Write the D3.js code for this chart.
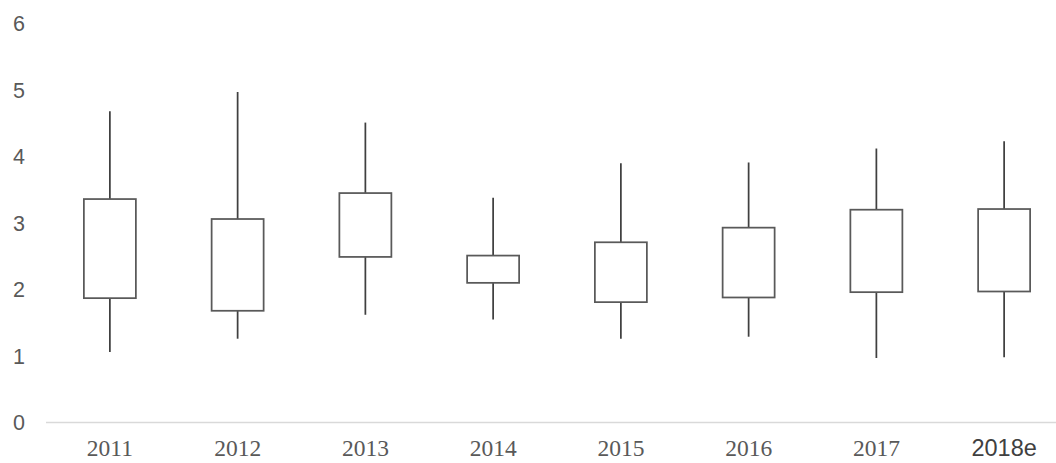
<!DOCTYPE html>
<html>
<head>
<meta charset="utf-8">
<script src="https://cdn.jsdelivr.net/npm/d3@7/dist/d3.min.js"></script>
<style>
  html, body { margin: 0; padding: 0; background: #fff; }
  svg { display: block; }
</style>
</head>
<body>
<div id="chart"></div>
<script>
// Yearly price ranges: whisker = low..high, box = open..close
const years = ["2011", "2012", "2013", "2014", "2015", "2016", "2017", "2018e"];
const high  = [4.68, 4.97, 4.51, 3.38, 3.90, 3.91, 4.12, 4.23];
const low   = [1.06, 1.26, 1.62, 1.55, 1.26, 1.29, 0.97, 0.98];
const open  = [1.87, 1.68, 2.49, 2.10, 1.81, 1.88, 1.96, 1.97];
const close = [3.36, 3.06, 3.45, 2.51, 2.71, 2.93, 3.20, 3.21];
const yTicks = [0, 1, 2, 3, 4, 5, 6];

const W = 1056, H = 463;
const data = years.map((y, i) => ({ year: y, high: high[i], low: low[i], open: open[i], close: close[i] }));

const x = d3.scaleBand().domain(years).range([46, 1068]).paddingInner(0).paddingOuter(0);
const y = d3.scaleLinear().domain([0, 6]).range([422.5, 23.5]);

const svg = d3.select("#chart").append("svg")
  .attr("width", W).attr("height", H);

// category axis line
svg.append("line")
  .attr("x1", x.range()[0]).attr("x2", x.range()[1])
  .attr("y1", y(0)).attr("y2", y(0))
  .attr("stroke", "#d9d9d9").attr("stroke-width", 1.5);

// value labels
svg.append("g").selectAll("text").data(yTicks).join("text")
  .attr("x", 25).attr("y", d => y(d))
  .attr("dy", "0.36em")
  .attr("text-anchor", "end")
  .attr("font-family", "'Liberation Sans', Arial, sans-serif")
  .attr("font-size", 21.5)
  .attr("fill", "#595959")
  .text(d => d);

// category labels
const isEstimate = d => d.endsWith("e");
svg.append("g").selectAll("text").data(years).join("text")
  .attr("x", d => x(d) + x.bandwidth() / 2)
  .attr("y", 456)
  .attr("text-anchor", "middle")
  .attr("font-family", d => isEstimate(d) ? "'Liberation Sans', Arial, sans-serif" : "'Liberation Serif', 'Times New Roman', serif")
  .attr("font-size", 23.5)
  .attr("fill", d => isEstimate(d) ? "#404040" : "#595959")
  .text(d => d);

const boxW = 52;
const g = svg.append("g").selectAll("g").data(data).join("g");

// whiskers
g.append("line")
  .attr("x1", d => x(d.year) + x.bandwidth() / 2)
  .attr("x2", d => x(d.year) + x.bandwidth() / 2)
  .attr("y1", d => y(d.high))
  .attr("y2", d => y(d.low))
  .attr("stroke", "#404040").attr("stroke-width", 1.75);

// boxes
g.append("rect")
  .attr("x", d => x(d.year) + x.bandwidth() / 2 - boxW / 2)
  .attr("width", boxW)
  .attr("y", d => y(Math.max(d.open, d.close)))
  .attr("height", d => Math.abs(y(d.open) - y(d.close)))
  .attr("fill", "#ffffff")
  .attr("stroke", "#595959").attr("stroke-width", 1.75);
</script>
</body>
</html>
